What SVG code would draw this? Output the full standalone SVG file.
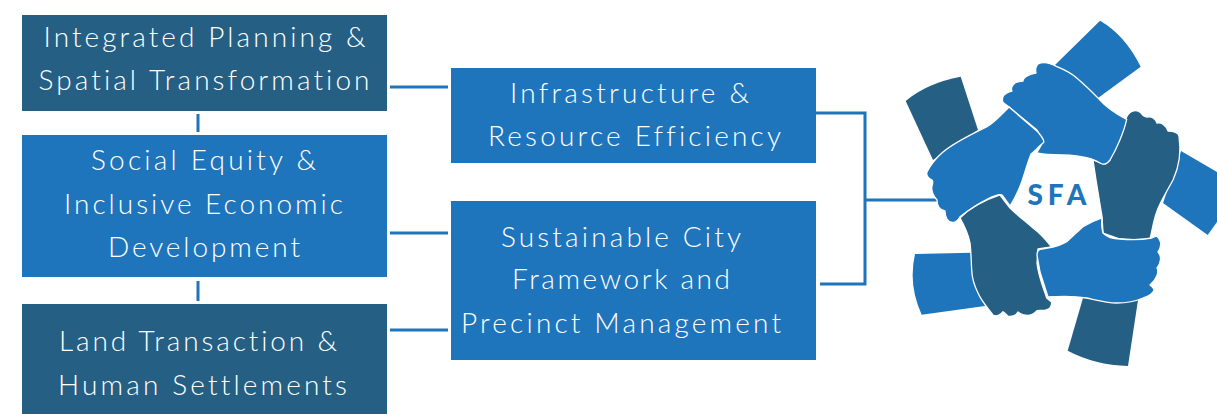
<svg xmlns="http://www.w3.org/2000/svg" width="1217" height="414" viewBox="0 0 1217 414">
<style>
.b{fill:#1f75bc}.d{fill:#256084}
.h{stroke:#fff;stroke-width:1.3;stroke-linejoin:round}
.t{font-family:Lato,"Liberation Sans",sans-serif;font-weight:300;font-size:28px;fill:#fff;font-variant-ligatures:none}
.c{fill:none;stroke:#1f75bc;stroke-width:3}
</style>
<rect width="1217" height="414" fill="#fff"/>
<g id="connectors" class="c">
<path d="M390 87H448M198 114V132M198 281V301M390 233H448M390 330H448M815 113H865V284H820M865 200H937"/>
</g>
<g id="n1"><rect class="d" x="22" y="15" width="365" height="96"/>
<text class="t" x="43.500" y="47" textLength="322">Integrated Planning &amp;</text>
<text class="t" x="38.500" y="90" textLength="331">Spatial Transformation</text></g>
<g id="n2"><rect class="b" x="22" y="135" width="365" height="142"/>
<text class="t" x="91" y="170" textLength="225">Social Equity &amp;</text>
<text class="t" x="64" y="214" textLength="279">Inclusive Economic</text>
<text class="t" x="108" y="257" textLength="192">Development</text></g>
<g id="n3"><rect class="d" x="22" y="304" width="365" height="110"/>
<text class="t" x="59" y="351" textLength="278">Land Transaction &amp;</text>
<text class="t" x="58" y="395" textLength="289">Human Settlements</text></g>
<g id="n4"><rect class="b" x="451" y="68" width="365" height="95"/>
<text class="t" x="510" y="103" textLength="239">Infrastructure &amp;</text>
<text class="t" x="488" y="146" textLength="293">Resource Efficiency</text></g>
<g id="n5"><rect class="b" x="451" y="201" width="365" height="159"/>
<text class="t" x="501" y="247" textLength="240">Sustainable City</text>
<text class="t" x="512" y="289" textLength="218">Framework and</text>
<text class="t" x="461" y="333" textLength="320">Precinct Management</text></g>
<g id="sfa">
<path class="b" d="M1100 20.700Q1125 35 1140.700 66.700L1098 98L1055 65Z"/>
<path class="d" d="M905.700 101Q927 83 960.700 76.700L978 130L933 160Z"/>
<path class="b" d="M1181 151L1217 172V222L1207.700 235L1163 203Z"/>
<path class="d" d="M1083 298L1138 300L1128 366Q1095 365 1067.700 350.700Z"/>
<path class="b" d="M915 254L972 252.700L985 306L921.700 314.700Q908 285 915 254Z"/>
<path class="d h" d="M1126.700 116.700C1130 110 1137 109 1141 113C1143 116 1145 117 1147 117C1152 116 1156 119 1157 123C1161 122 1166 125 1168 131C1173 131 1178 132 1179 136C1181 150 1180 165 1173 180C1166 193 1160 202 1156.700 212C1153 222 1152 232 1150 239C1140 240 1130 240 1120 239L1103 233L1102 216.700L1096 180L1093 160L1103 164L1110 160Z"/>
<path class="b h" d="M1038 64C1044 61 1052 64 1057 66.700C1065 70 1071 73 1077 78.300C1085 85 1092 92 1098 98C1106 107 1116 114 1126.700 119.300C1124 132 1116 150 1110 160C1107 164 1104 165 1101 163.500C1097 161 1095 160 1091.700 159C1080 156 1070 155 1063 155C1054 155 1044 155 1036.700 153L1043 142L1037 130L1009 107L1003 102.500C1001 97 1004 93 1012 91C1010 87 1014 81 1023 81C1023 77 1030 74 1036 73C1035 69 1036 66 1038 64Z"/>
<path class="b h" d="M1009 107L1038 132C1043 138 1045 142 1043 143C1038 147 1035 151 1031 154C1027 164 1024 176 1021.700 182C1018 192 1014 200 1010 206L1002 195C998 193 980 201 960 216.700C956 224 950 224 947 219C945 216 945 214 945 211C940 210 937 206 937 200C933 196 931 190 932 186C933 183 933 181 932 180C928 178 926 175 927 172C930 166 936 158 943 152C955 142 970 135 987 126.700C995 122 1002 114 1009 107Z"/>
<path class="d h" d="M1000 195L1010 208C1016 214 1025 221 1033 228C1040 233 1046 240 1051.700 247L1038 249L1037 263C1038 275 1043 287 1046.700 298L1051.500 302C1052 306 1050 309 1046 310C1043 311 1040 310 1037 310.700C1033 315 1028 316 1024 315C1021 314 1019 313 1018 312C1016 316 1011 317 1008 316C1006 315 1005 313 1003 311.700C1001 315 996 317 993 315C988 308 982 302 978 293C974 285 972 278 971.700 270C971 258 971 250 970 243C968 233 964 225 960 218C970 208 985 200 1000 195Z"/>
<path class="b h" d="M1102 218C1101 224 1102 229 1103 233C1108 238 1115 239 1120 239C1130 240 1141 240 1151.700 238L1156.700 236C1161 240 1162 246 1158 252C1162 256 1161 263 1157 268C1159 272 1157 279 1150 285C1154 288 1155 290 1153 292C1150 296 1147 297 1143 298C1134 302 1126 303 1116.700 303C1106 303 1096 300 1086.700 298C1075 296 1060 296 1048 297L1040 272L1037 255C1037 250 1039 249 1042 249L1053 247C1058 246 1062 244 1066.700 241.700C1072 237 1077 232 1083 226.700C1089 223 1096 220 1102 218Z"/>
<text x="1027.500" y="205" textLength="59" style="font-family:Lato,'Liberation Sans',sans-serif;font-weight:900;font-size:28px;fill:#1f75bc">SFA</text>
</g>
</svg>
